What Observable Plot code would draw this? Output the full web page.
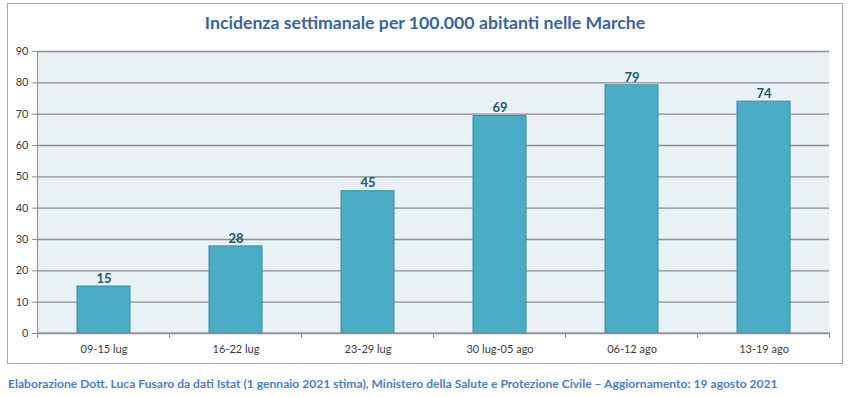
<!DOCTYPE html>
<html>
<head>
<meta charset="utf-8">
<script src="https://cdn.jsdelivr.net/npm/d3@7"></script>
<script src="https://cdn.jsdelivr.net/npm/@observablehq/plot@0.6"></script>
<style>
  html, body { margin: 0; padding: 0; background: #ffffff; }
  body { width: 850px; height: 397px; position: relative; overflow: hidden; font-family: Lato, "Open Sans", sans-serif; }
  #frame { position: absolute; left: 7px; top: 3px; width: 836px; height: 361px; box-sizing: border-box; border: 1px solid #a6a6a6; }
  #title { position: absolute; left: 0; top: 12px; width: 850px; text-align: center; font-size: 17.7px; font-weight: bold; color: #3A64A0; }
  #chart { position: absolute; left: 0; top: 0; }
  #caption { position: absolute; left: 8px; top: 376px; font-size: 12.1px; font-weight: bold; color: #4A80C2; white-space: nowrap; }
</style>
</head>
<body>
<div id="frame"></div>
<div id="title">Incidenza settimanale per 100.000 abitanti nelle Marche</div>
<div id="chart"></div>
<div id="caption">Elaborazione Dott. Luca Fusaro da dati Istat (1 gennaio 2021 stima), Ministero della Salute e Protezione Civile – Aggiornamento: 19 agosto 2021</div>
<script>
const weeks = ["09-15 lug", "16-22 lug", "23-29 lug", "30 lug-05 ago", "06-12 ago", "13-19 ago"];
const values = [15.0, 27.8, 45.4, 69.4, 79.2, 74.0];
const labels = ["15", "28", "45", "69", "79", "74"];
const yTicks = [0, 10, 20, 30, 40, 50, 60, 70, 80, 90];

const data = weeks.map((w, i) => ({week: w, value: values[i], label: labels[i]}));

const gray = "#8e8e8e";

function boundaryMarks(index, scales, values, dims) {
  const x = scales.x, y = scales.y;
  const bw = x.bandwidth ? x.bandwidth() : 0;
  const centers = weeks.map(w => x(w) + bw / 2);
  const step = centers[1] - centers[0];
  const xs = centers.map(c => c - step / 2).concat([centers[centers.length - 1] + step / 2]);
  const y0 = y(0), yTop = y(yTicks[yTicks.length - 1]);
  const g = d3.create("svg:g").attr("stroke", gray).attr("stroke-width", 1);
  g.selectAll("line.t").data(xs).join("line")
    .attr("x1", d => d).attr("x2", d => d)
    .attr("y1", y0).attr("y2", y0 + 5);
  g.append("line").attr("x1", xs[0]).attr("x2", xs[0]).attr("y1", yTop).attr("y2", y0 + 5);
  g.append("line").attr("x1", xs[0]).attr("x2", xs[xs.length - 1]).attr("y1", y0).attr("y2", y0);
  return g.node();
}

const chart = Plot.plot({
  width: 850,
  height: 363,
  marginTop: 51,
  marginBottom: 30,
  marginLeft: 37,
  marginRight: 21,
  style: {fontFamily: "Lato, 'Open Sans', sans-serif", background: "transparent", overflow: "visible"},
  x: {domain: weeks, paddingInner: 0.6, paddingOuter: 0.3, label: null},
  y: {domain: [0, 90], label: null},
  marks: [
    Plot.frame({fill: "#E9F1F5", stroke: null}),
    Plot.gridY(yTicks, {stroke: gray, strokeOpacity: 1, strokeWidth: 1.3}),
    Plot.barY(data, {x: "week", y: "value", fill: "#4BACC6", stroke: "#3B8BA4", strokeWidth: 1}),
    Plot.text(data, {x: "week", y: "value", text: "label", dy: -8, fontSize: 13, fontWeight: "bold", fill: "#215A6D"}),
    Plot.axisY(yTicks, {tickSize: 5, tickPadding: 4, fontSize: 11, color: "#3c3c3c", stroke: gray, label: null}),
    Plot.axisX({tickSize: 0, tickPadding: 12, fontSize: 11, color: "#3c3c3c", label: null}),
    boundaryMarks
  ]
});
document.getElementById("chart").appendChild(chart);
</script>
</body>
</html>
